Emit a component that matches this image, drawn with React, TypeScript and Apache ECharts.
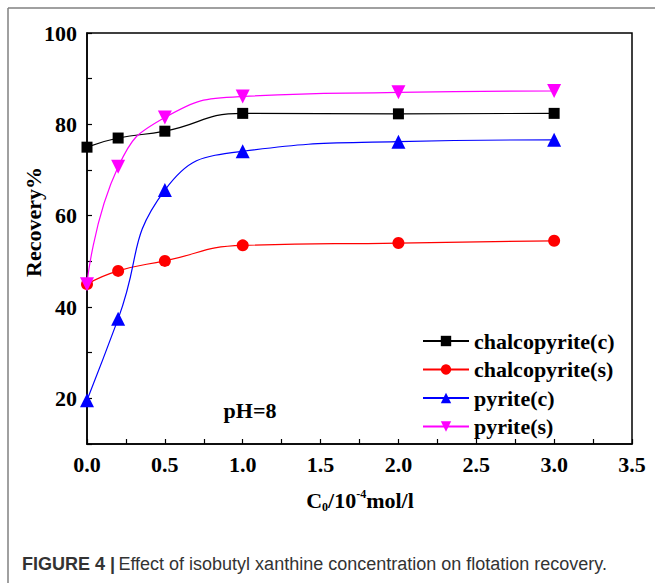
import React, { useEffect, useRef } from "react";
import * as echarts from "echarts";

const xValues = [0, 0.2, 0.5, 1.0, 2.0, 3.0];
const chalcopyriteC = [75.0, 77.0, 78.5, 82.4, 82.3, 82.4];
const chalcopyriteS = [45.0, 47.9, 50.1, 53.5, 54.0, 54.5];
const pyriteC = [19.6, 37.4, 65.6, 74.1, 76.2, 76.6];
const pyriteS = [45.0, 70.7, 81.5, 86.1, 87.0, 87.3];

const seriesNames = ["chalcopyrite(c)", "chalcopyrite(s)", "pyrite(c)", "pyrite(s)"];
const seriesColors = ["#000000", "#ff0000", "#0000ff", "#ff00ff"];
const seriesSymbols = ["rect", "circle", "triangle", "triangle"];
const seriesRotate = [0, 0, 0, 180];
const seriesData = [chalcopyriteC, chalcopyriteS, pyriteC, pyriteS];

const FONT = "'Liberation Serif', 'Times New Roman', serif";

export default function App() {
  const ref = useRef<HTMLDivElement>(null);
  useEffect(() => {
    if (!ref.current) return;
    const chart = echarts.init(ref.current, null, { renderer: "svg" });
    const series = seriesNames.map((name, i) => ({
      name,
      type: "line",
      smooth: 0.5,
      data: xValues.map((x, j) => [x, seriesData[i][j]]),
      symbol: seriesSymbols[i],
      symbolRotate: seriesRotate[i],
      symbolSize: i === 0 ? 11 : i === 1 ? 12 : 14,
      showSymbol: true,
      lineStyle: { color: seriesColors[i], width: 1.2 },
      itemStyle: { color: seriesColors[i] },
      clip: false,
    }));
    chart.setOption({
      animation: false,
      backgroundColor: "#ffffff",
      grid: {
        left: 87,
        top: 33,
        width: 545,
        height: 411,
        show: true,
        borderColor: "#000",
        borderWidth: 1.5,
        containLabel: false,
      },
      xAxis: {
        type: "value",
        min: 0,
        max: 3.5,
        interval: 0.25,
        axisLine: { show: true, lineStyle: { color: "#000", width: 1.5 } },
        axisTick: { show: true, inside: true, length: 5, lineStyle: { color: "#000", width: 1.2 } },
        splitLine: { show: false },
        axisLabel: {
          margin: 9,
          color: "#000",
          fontFamily: FONT,
          fontWeight: "bold",
          fontSize: 22,
          formatter: (v: number) =>
            Math.abs(v * 2 - Math.round(v * 2)) < 1e-6 ? v.toFixed(1) : "",
        },
      },
      yAxis: {
        type: "value",
        min: 10,
        max: 100,
        interval: 10,
        axisLine: { show: true, lineStyle: { color: "#000", width: 1.5 } },
        axisTick: { show: true, inside: true, length: 5, lineStyle: { color: "#000", width: 1.2 } },
        splitLine: { show: false },
        axisLabel: {
          margin: 10,
          color: "#000",
          fontFamily: FONT,
          fontWeight: "bold",
          fontSize: 22,
          formatter: (v: number) => (Math.round(v) % 20 === 0 ? String(Math.round(v)) : ""),
        },
      },
      legend: {
        orient: "vertical",
        left: 417,
        top: 324,
        itemWidth: 46,
        itemHeight: 13,
        itemGap: 4.5,
        selectedMode: false,
        textStyle: {
          fontFamily: FONT,
          fontWeight: "bold",
          fontSize: 22,
          color: "#000",
          lineHeight: 24,
          padding: [0, 0, 0, 0],
        },
        data: seriesNames,
      },
      graphic: [
        {
          type: "line",
          shape: { x1: 8, y1: 8, x2: 655, y2: 8 },
          style: { stroke: "#808080", lineWidth: 1.5 },
        },
        {
          type: "line",
          shape: { x1: 8, y1: 8, x2: 8, y2: 583 },
          style: { stroke: "#808080", lineWidth: 1.5 },
        },
        {
          type: "text",
          x: 33,
          y: 222,
          rotation: Math.PI / 2,
          style: {
            text: "Recovery%",
            fontFamily: FONT,
            fontWeight: "bold",
            fontSize: 22,
            fill: "#000",
            align: "center",
            verticalAlign: "middle",
          },
        },
        {
          type: "text",
          x: 250,
          y: 410,
          style: {
            text: "pH=8",
            fontFamily: FONT,
            fontWeight: "bold",
            fontSize: 22,
            fill: "#000",
            align: "center",
            verticalAlign: "middle",
          },
        },
        {
          type: "text",
          x: 360,
          y: 500,
          style: {
            text: "{a|C}{sub|0}{a|/10}{sup|-4}{a|mol/l}",
            align: "center",
            verticalAlign: "middle",
            rich: {
              a: { fontFamily: FONT, fontWeight: "bold", fontSize: 22, fill: "#000" },
              sub: { fontFamily: FONT, fontWeight: "bold", fontSize: 12, fill: "#000", padding: [14, 0, 0, 0] },
              sup: { fontFamily: FONT, fontWeight: "bold", fontSize: 12, fill: "#000", padding: [0, 0, 12, 0] },
            },
          },
        },
        {
          type: "text",
          x: 22,
          y: 564,
          style: {
            text: "{b|FIGURE 4 |} {n|Effect of isobutyl xanthine concentration on flotation recovery.}",
            verticalAlign: "middle",
            rich: {
              b: { fontFamily: "'Liberation Sans', Arial, sans-serif", fontWeight: "bold", fontSize: 18, fill: "#333" },
              n: { fontFamily: "'Liberation Sans', Arial, sans-serif", fontSize: 18, fill: "#333" },
            },
          },
        },
      ],
      series,
    });
    return () => chart.dispose();
  }, []);
  return (
    <div
      ref={ref}
      style={{ position: "fixed", left: 0, top: 0, width: 655, height: 583, background: "#fff" }}
    />
  );
}
